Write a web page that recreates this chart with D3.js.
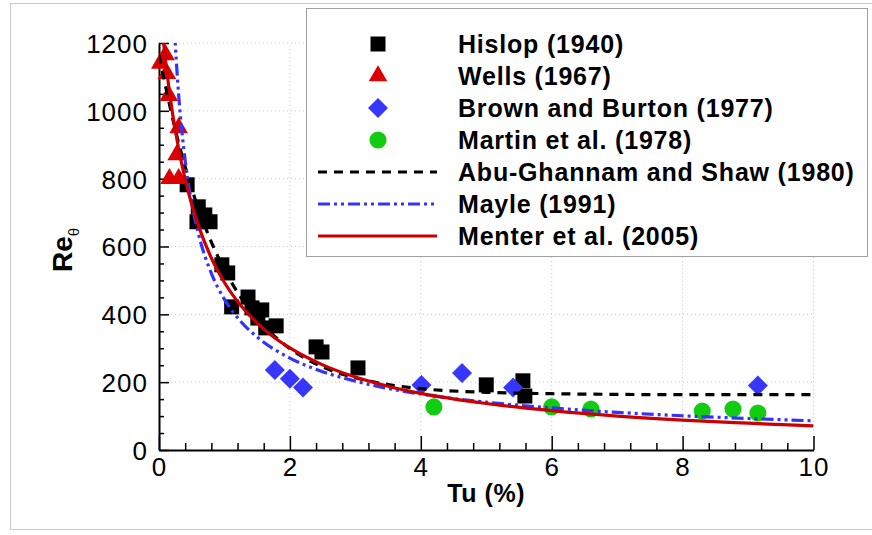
<!DOCTYPE html>
<html><head><meta charset="utf-8">
<script src="https://cdn.jsdelivr.net/npm/d3@7"></script>
<style>body{margin:0;background:#fff}svg{display:block}text{font-family:"Liberation Sans",Arial,Helvetica,sans-serif}</style>
</head><body>
<svg id="c" width="872" height="535"></svg>
<script>
// ---- data ----
const hislop = [[0.43,782],[0.60,717],[0.70,693],[0.58,673],[0.78,673],[0.96,546],[1.05,522],[1.11,422],[1.36,451],[1.42,419],[1.51,389],[1.57,413],[1.63,360],[1.79,366],[2.40,304],[2.49,289],[3.04,242],[5.0,192],[5.56,204],[5.59,159]];
const wells = [[0.02,1140],[0.10,1165],[0.12,1110],[0.15,1045],[0.30,950],[0.27,870],[0.16,800],[0.30,800]];
const brown = [[1.77,236],[2.0,210],[2.2,184],[4.01,192],[4.63,227],[5.41,184],[9.15,190]];
const martin = [[4.2,127],[6.0,127],[6.6,121],[8.3,115],[8.77,121],[9.15,109]];
const abuTu = [0,0.25,0.5,0.75,1.0,1.25,1.5,2,2.5,3,3.5,4,5,6,7,8,10];
const abuRe = [1165,944,771,636,532,450,387,299,245,213,193,181,170,166,164,163,163];
const mayleTu = [0.24,0.25,0.3,0.4,0.5,0.6,0.8,1.0,1.25,1.5,2,2.5,3,4,5,6,7,8,9,10];
const mayleRe = [1228,1193,1048,853,728,639,521,444,379,333,271,231,203,165,141,124,111,101,93,86];
const menterTu = [0.07,0.1,0.2,0.3,0.4,0.5,0.6,0.8,1.0,1.25,1.5,1.75,2,2.5,3,3.5,4,5,6,7,8,9,10];
const menterRe = [1200,1148,1002,889,798,724,663,566,494,426,374,333,301,251,215,188,167,137,116,100,88,79,71];
const xMajor = [0,2,4,6,8,10];
const yMajor = [0,200,400,600,800,1000,1200];
const legendLabels = ["Hislop (1940)","Wells (1967)","Brown and Burton (1977)","Martin et al. (1978)","Abu-Ghannam and Shaw (1980)","Mayle (1991)","Menter et al. (2005)"];

// ---- chart ----
const svg = d3.select("#c");
const x = d3.scaleLinear().domain([0,10]).range([159,813.5]);
const y = d3.scaleLinear().domain([0,1200]).range([450,43]);
const FONT = '"Liberation Sans",Arial,Helvetica,sans-serif';

// outer frame
svg.append("rect").attr("x",10.5).attr("y",3.5).attr("width",880).attr("height",526)
  .attr("fill","none").attr("stroke","#c8c8c8").attr("stroke-width",1);

// grid
const grid = svg.append("g").attr("stroke","#c8c8c8").attr("stroke-width",1).attr("stroke-dasharray","1,3");
grid.selectAll("line.gx").data(xMajor.slice(1)).join("line")
  .attr("x1",d=>x(d)).attr("x2",d=>x(d)).attr("y1",y(0)).attr("y2",y(1200));
grid.selectAll("line.gy").data(yMajor.slice(1)).join("line")
  .attr("x1",x(0)).attr("x2",x(10)).attr("y1",d=>y(d)).attr("y2",d=>y(d));

// legend box (drawn under data, over grid)
const lg = svg.append("g");
lg.append("rect").attr("x",306.5).attr("y",8.5).attr("width",561).attr("height",248)
  .attr("fill","#fff").attr("stroke","#a0a0a0").attr("stroke-width",1);

// axes
const xMinor = d3.range(0,10.001,0.4).map(v=>+v.toFixed(2)).filter(v=>!xMajor.includes(v));
const yMinor = d3.range(0,1200.1,50).filter(v=>!yMajor.includes(v));
const gx = svg.append("g").attr("transform",`translate(0,${y(0)})`)
  .call(d3.axisBottom(x).tickValues(xMajor).tickSize(-14).tickSizeOuter(0).tickPadding(7).tickFormat(d3.format("d")));
svg.append("g").attr("transform",`translate(0,${y(0)})`)
  .call(d3.axisBottom(x).tickValues(xMinor).tickSize(-7).tickSizeOuter(0).tickFormat(""))
  .call(g=>g.select(".domain").remove());
const gy = svg.append("g").attr("transform",`translate(${x(0)},0)`)
  .call(d3.axisLeft(y).tickValues(yMajor).tickSize(-10).tickSizeOuter(0).tickPadding(11).tickFormat(d3.format("d")));
svg.append("g").attr("transform",`translate(${x(0)},0)`)
  .call(d3.axisLeft(y).tickValues(yMinor).tickSize(-5).tickSizeOuter(0).tickFormat(""))
  .call(g=>g.select(".domain").remove());
svg.selectAll(".domain").attr("stroke","#000").attr("stroke-width",2);
svg.selectAll(".tick line").attr("stroke","#000").attr("stroke-width",1.5);
[gx,gy].forEach(g=>g.selectAll("text").attr("font-family",FONT).attr("font-size",26).attr("letter-spacing",1).attr("fill","#000"));
gx.selectAll("text").attr("dy","0.72em");
gy.selectAll("text").attr("dy","0.36em");

// axis titles
svg.append("text").attr("x",x(5)).attr("y",502).attr("text-anchor","middle")
  .attr("font-family",FONT).attr("font-weight","bold").attr("font-size",25).attr("letter-spacing",0.6).text("Tu (%)");
const yt = svg.append("text").attr("transform","translate(72,250) rotate(-90)").attr("text-anchor","middle")
  .attr("font-family",FONT).attr("font-weight","bold").attr("font-size",28);
yt.append("tspan").text("Re");
yt.append("tspan").attr("dy",7).attr("font-size",15).attr("font-weight","normal").text("θ");

// markers
const sq = d3.symbol(d3.symbolSquare,225)();
const tri = d3.symbol(d3.symbolTriangle,150)();
const dia = d3.symbol(d3.symbolSquare,200)();
const cir = d3.symbol(d3.symbolCircle,230)();
const mk = [
  {data:hislop, path:sq, fill:"#000", rot:0},
  {data:wells, path:tri, fill:"#dd0000", rot:0},
  {data:brown, path:dia, fill:"#3636ff", rot:45},
  {data:martin, path:cir, fill:"#11cc11", rot:0}
];
mk.forEach(m=>{
  svg.append("g").selectAll("path").data(m.data).join("path")
    .attr("d",m.path).attr("fill",m.fill)
    .attr("transform",d=>`translate(${x(d[0])},${y(d[1])}) rotate(${m.rot})`);
});

// curves
svg.append("clipPath").attr("id","pc").append("rect")
  .attr("x",x(0)).attr("y",y(1200)).attr("width",x(10)-x(0)).attr("height",y(0)-y(1200));
const line = d3.line().x(d=>x(d[0])).y(d=>y(d[1])).curve(d3.curveMonotoneX);
const curves = [
  {tu:abuTu, re:abuRe, color:"#000", dash:"9,7"},
  {tu:mayleTu, re:mayleRe, color:"#3333ff", dash:"12,4,3,4,3,4"},
  {tu:menterTu, re:menterRe, color:"#cc0000", dash:null}
];
const cg = svg.append("g").attr("clip-path","url(#pc)");
curves.forEach(c=>{
  cg.append("path").datum(c.tu.map((t,i)=>[t,c.re[i]])).attr("d",line)
    .attr("fill","none").attr("stroke",c.color).attr("stroke-width",3.2)
    .attr("stroke-dasharray",c.dash);
});

// legend entries
const rowY = i => 44 + i*32;
legendLabels.forEach((lab,i)=>{
  lg.append("text").attr("x",458).attr("y",rowY(i)).attr("dy","0.36em")
    .attr("font-family",FONT).attr("font-weight","bold").attr("font-size",25).attr("letter-spacing",0.8)
    .text(lab);
});
mk.forEach((m,i)=>{
  lg.append("path").attr("d",m.path).attr("fill",m.fill)
    .attr("transform",`translate(378,${rowY(i)}) rotate(${m.rot})`);
});
curves.forEach((c,i)=>{
  lg.append("line").attr("x1",318).attr("x2",437).attr("y1",rowY(i+4)).attr("y2",rowY(i+4))
    .attr("stroke",c.color).attr("stroke-width",3.2).attr("stroke-dasharray",c.dash);
});
</script>
</body></html>
